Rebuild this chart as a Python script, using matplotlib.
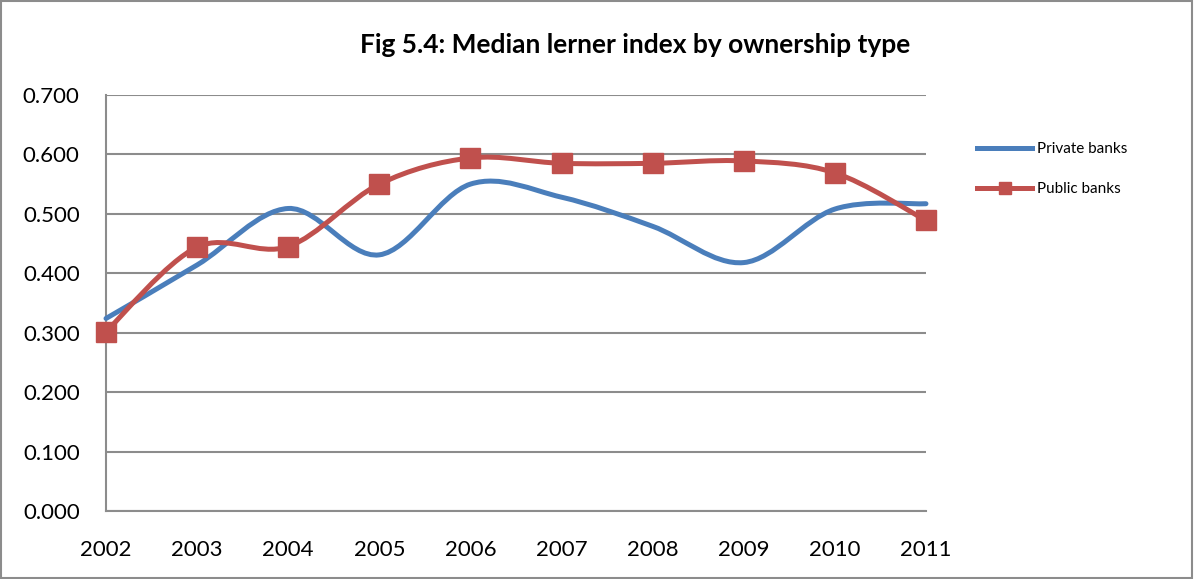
import numpy as np
import matplotlib
matplotlib.use("Agg")
import matplotlib.pyplot as plt
from matplotlib.path import Path
from matplotlib.patches import PathPatch, Rectangle
from matplotlib.lines import Line2D

plt.rcParams["font.family"] = ["Lato", "DejaVu Sans"]

years = [2002, 2003, 2004, 2005, 2006, 2007, 2008, 2009, 2010, 2011]
private_banks = [0.324, 0.414, 0.509, 0.431, 0.550, 0.528, 0.479, 0.418, 0.508, 0.517]
public_banks = [0.302, 0.444, 0.445, 0.550, 0.594, 0.585, 0.585, 0.589, 0.569, 0.489]
yticks = [0.0, 0.1, 0.2, 0.3, 0.4, 0.5, 0.6, 0.7]

BLUE = "#4a7ebb"
RED = "#c0504d"
GRID = "#8c8c8c"


def smooth_path(x, y):
    # Excel-style smoothed line: cubic Bezier segments with Catmull-Rom control points
    x = np.asarray(x, float)
    y = np.asarray(y, float)
    n = len(x)
    verts = [(x[0], y[0])]
    codes = [Path.MOVETO]
    for i in range(n - 1):
        i0 = max(i - 1, 0)
        i3 = min(i + 2, n - 1)
        c1 = (x[i] + (x[i + 1] - x[i0]) / 6, y[i] + (y[i + 1] - y[i0]) / 6)
        c2 = (x[i + 1] - (x[i3] - x[i]) / 6, y[i + 1] - (y[i3] - y[i]) / 6)
        verts += [c1, c2, (x[i + 1], y[i + 1])]
        codes += [Path.CURVE4] * 3
    return Path(verts, codes)


fig = plt.figure(figsize=(11.94, 5.79), dpi=100)
ax = fig.add_axes([0.0888, 0.1174, 0.6867, 0.7186])

ax.add_patch(PathPatch(smooth_path(years, private_banks), fill=False,
                       edgecolor=BLUE, lw=3.6, capstyle="round", zorder=3,
                       clip_on=False))
ax.add_patch(PathPatch(smooth_path(years, public_banks), fill=False,
                       edgecolor=RED, lw=3.6, capstyle="round", zorder=4,
                       clip_on=False))
ax.plot(years, public_banks, "s", color=RED, markersize=14, zorder=5, clip_on=False)

ax.set_xlim(years[0], years[-1])
ax.set_ylim(0, 0.7)
ax.set_yticks(yticks)
ax.set_yticklabels([f"{v:.3f}" for v in yticks])
ax.set_xticks(years)
ax.set_xticklabels([str(y) for y in years])
ax.tick_params(length=0, labelsize=16)
ax.tick_params(axis="y", pad=19)
ax.tick_params(axis="x", pad=21)
ax.grid(axis="y", color=GRID, lw=1.5)
ax.set_axisbelow(True)
for s in ["top", "right"]:
    ax.spines[s].set_visible(False)
ax.spines["left"].set_color(GRID)
ax.spines["left"].set_linewidth(1.5)
ax.spines["bottom"].set_color(GRID)
ax.spines["bottom"].set_linewidth(1.5)

fig.text(0.532, 0.922, "Fig 5.4: Median lerner index by ownership type",
         ha="center", va="center", fontsize=19, fontweight="bold")

handles = [Line2D([], [], color=BLUE, lw=3.6),
           Line2D([], [], color=RED, lw=3.6, marker="s", markersize=9)]
fig.legend(handles, ["Private banks", "Public banks"], loc="upper left",
           bbox_to_anchor=(0.807, 0.778), frameon=False, fontsize=11,
           handlelength=3.6, handletextpad=0.3, labelspacing=1.7)

fig.patches.append(Rectangle((0.001, 0.002), 0.997, 0.996, transform=fig.transFigure,
                             fill=False, edgecolor="#8c8c8c", lw=1.5))

fig.savefig("out.png", dpi=100)
